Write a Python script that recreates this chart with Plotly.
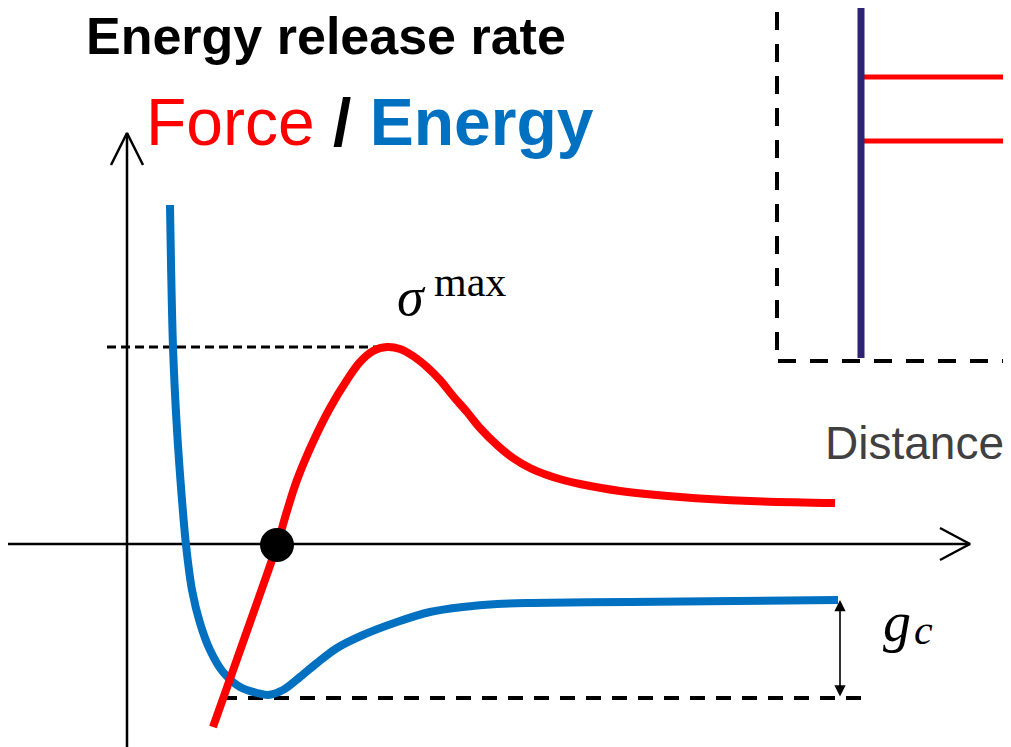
import plotly.graph_objects as go

# Chart coordinates: origin at the crossing of the two drawn axes
# Force curve (red)
force_x = [86, 109, 132, 150, 160, 170, 186, 203, 220, 233, 246, 260, 273, 286, 300,
           313, 326, 340, 353, 370, 386, 403, 420, 436, 453, 493, 553, 623, 708]
force_y = [-183, -118, -53, -1, 33, 64, 102, 136, 164, 182, 193, 197, 195, 188, 177,
           164, 148, 132, 116, 99, 86, 76, 69, 64, 60, 53, 47, 43, 41]

# Energy curve (blue)
energy_x = [43, 46, 50, 55, 59, 65, 73, 83, 96, 113, 130, 141, 156, 173, 190, 210,
            236, 270, 303, 336, 370, 403, 503, 608, 711]
energy_y = [339, 197, 114, 44, -1, -46, -79, -106, -128, -143, -149, -151, -146,
            -133, -119, -104, -91, -78, -68, -63, -60, -59, -58, -57, -56]

# Equilibrium point
eq_x = [150]
eq_y = [-1]

# Reference levels
sigma_max = 197
energy_min = -154
energy_far = -56
gc_x = 713

# Axes extents
xaxis_line = [-119, 843]
yaxis_line = [-203, 411]

# Inset (top right)
inset_wall_x = 734
inset_box_x = 650
inset_box_y = 183
inset_bonds_y = [467, 403]
inset_right = 884

RED = "#FF0000"
BLUE = "#0070C0"

fig = go.Figure()

# inset box (dashed)
fig.add_trace(go.Scatter(x=[inset_box_x, inset_box_x], y=[532, inset_box_y], mode="lines",
                         line=dict(color="black", width=4, dash="18px,14px")))
fig.add_trace(go.Scatter(x=[inset_box_x + 1, inset_right], y=[inset_box_y, inset_box_y], mode="lines",
                         line=dict(color="black", width=4, dash="18px,14px")))
# bonds
for by in inset_bonds_y:
    fig.add_trace(go.Scatter(x=[inset_wall_x, inset_right], y=[by, by], mode="lines",
                             line=dict(color=RED, width=5)))
# wall
fig.add_trace(go.Scatter(x=[inset_wall_x, inset_wall_x], y=[544, inset_box_y + 3], mode="lines",
                         line=dict(color="#2E2473", width=7)))

# axes
fig.add_trace(go.Scatter(x=xaxis_line, y=[0, 0], mode="lines", line=dict(color="black", width=2.5)))
fig.add_trace(go.Scatter(x=[813, 843, 813], y=[16, 0, -16], mode="lines",
                         line=dict(color="black", width=2.5)))
fig.add_trace(go.Scatter(x=[0, 0], y=yaxis_line, mode="lines", line=dict(color="black", width=2.5)))
fig.add_trace(go.Scatter(x=[-16, 0, 16], y=[379, 411, 379], mode="lines",
                         line=dict(color="black", width=2.5)))

# dashed reference lines
fig.add_trace(go.Scatter(x=[-20, 256], y=[sigma_max, sigma_max], mode="lines",
                         line=dict(color="black", width=3, dash="9px,5px")))
fig.add_trace(go.Scatter(x=[95, 745], y=[energy_min, energy_min], mode="lines",
                         line=dict(color="black", width=4, dash="15px,11px")))

# curves
fig.add_trace(go.Scatter(x=energy_x, y=energy_y, mode="lines",
                         line=dict(color=BLUE, width=8, shape="spline", smoothing=0.9)))
fig.add_trace(go.Scatter(x=force_x, y=force_y, mode="lines",
                         line=dict(color=RED, width=8, shape="spline", smoothing=1.0)))

# equilibrium point
fig.add_trace(go.Scatter(x=eq_x, y=eq_y, mode="markers",
                         marker=dict(color="black", size=34)))

annotations = [
    # g_c double arrow
    dict(x=gc_x, y=energy_far, ax=gc_x, ay=energy_min, xref="x", yref="y", axref="x", ayref="y",
         showarrow=True, arrowhead=2, arrowside="end+start", arrowsize=1.4, arrowwidth=1.6,
         arrowcolor="black", text=""),
    dict(x=199, y=508, xref="x", yref="y", text="<b>Energy release rate</b>", showarrow=False,
         font=dict(family="Liberation Sans, Arial", size=52, color="black")),
    dict(x=243, y=422, xref="x", yref="y",
         text=f'<span style="color:{RED}">Force</span> <b>/</b> <b><span style="color:{BLUE}">Energy</span></b>',
         showarrow=False, font=dict(family="Liberation Sans, Arial", size=66, color="black")),
    dict(x=787, y=101, xref="x", yref="y", text="Distance", showarrow=False,
         font=dict(family="Liberation Sans, Arial", size=46, color="#404040")),
    dict(x=284, y=247, xref="x", yref="y", text="<i>σ</i>", showarrow=False,
         font=dict(family="Liberation Serif, Times New Roman", size=54, color="black")),
    dict(x=343, y=262, xref="x", yref="y", text="max", showarrow=False,
         font=dict(family="Liberation Serif, Times New Roman", size=42, color="black")),
    dict(x=770, y=-78, xref="x", yref="y", text="<i>g</i>", showarrow=False,
         font=dict(family="Liberation Serif, Times New Roman", size=56, color="black")),
    dict(x=796, y=-86, xref="x", yref="y", text="<i>c</i>", showarrow=False,
         font=dict(family="Liberation Serif, Times New Roman", size=42, color="black")),
]

# The page body has an 8px margin, so the figure is 8px smaller to fit the window
fig.update_layout(
    width=1003, height=739,
    margin=dict(l=0, r=0, t=0, b=0),
    paper_bgcolor="white", plot_bgcolor="white",
    showlegend=False,
    xaxis=dict(range=[-119, 884], visible=False, fixedrange=True),
    yaxis=dict(range=[-203, 536], visible=False, fixedrange=True),
    annotations=annotations,
)

fig.write_html("out.html")
